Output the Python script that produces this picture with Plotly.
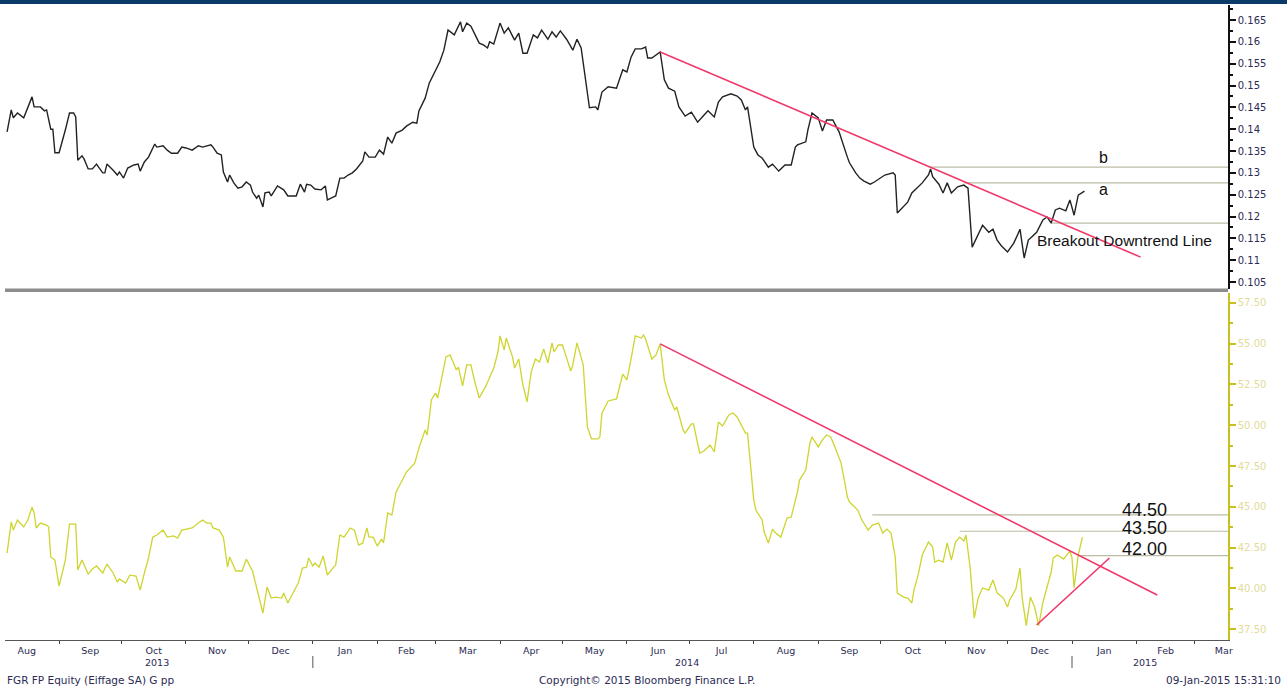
import plotly.graph_objects as go

# ---------------- data ----------------
ratio_series = [
    ("2013-08-07",0.1394),("2013-08-09",0.1444),("2013-08-10",0.1426),("2013-08-12",0.1437),("2013-08-15",0.1426),("2013-08-17",0.1451),("2013-08-19",0.1474),("2013-08-20",0.1451),("2013-08-23",0.1451),("2013-08-25",0.1442),("2013-08-26",0.1444),("2013-08-28",0.1400),("2013-08-29",0.1400),("2013-08-30",0.1346),
    ("2013-09-01",0.1346),("2013-09-04",0.1398),("2013-09-06",0.1437),("2013-09-08",0.1437),("2013-09-09",0.1428),("2013-09-10",0.1329),("2013-09-12",0.1339),("2013-09-13",0.1332),("2013-09-15",0.1309),("2013-09-17",0.1309),("2013-09-19",0.1320),("2013-09-20",0.1313),("2013-09-22",0.1300),("2013-09-23",0.1300),("2013-09-24",0.1320),("2013-09-27",0.1306),("2013-09-29",0.1295),("2013-09-30",0.1302),
    ("2013-10-02",0.1288),("2013-10-04",0.1311),("2013-10-07",0.1318),("2013-10-09",0.1320),("2013-10-10",0.1304),("2013-10-12",0.1325),("2013-10-14",0.1336),("2013-10-17",0.1366),("2013-10-18",0.1359),("2013-10-21",0.1362),("2013-10-23",0.1352),("2013-10-25",0.1345),("2013-10-28",0.1345),("2013-10-30",0.1359),
    ("2013-11-01",0.1357),("2013-11-04",0.1352),("2013-11-07",0.1362),("2013-11-09",0.1359),("2013-11-11",0.1362),("2013-11-13",0.1364),("2013-11-14",0.1359),("2013-11-16",0.1345),("2013-11-18",0.1341),("2013-11-19",0.1302),("2013-11-21",0.1279),("2013-11-22",0.1295),("2013-11-24",0.1277),("2013-11-26",0.1265),("2013-11-28",0.1268),("2013-11-30",0.1279),
    ("2013-12-02",0.1272),("2013-12-03",0.1256),("2013-12-05",0.1242),("2013-12-06",0.1249),("2013-12-08",0.1222),("2013-12-09",0.1254),("2013-12-11",0.1256),("2013-12-12",0.1247),("2013-12-15",0.1270),("2013-12-18",0.1261),("2013-12-20",0.1247),("2013-12-24",0.1247),("2013-12-26",0.1274),("2013-12-28",0.1256),("2013-12-29",0.1274),("2013-12-31",0.1272),
    ("2014-01-02",0.1263),("2014-01-05",0.1261),("2014-01-07",0.1270),("2014-01-08",0.1238),("2014-01-11",0.1245),("2014-01-12",0.1247),("2014-01-14",0.1288),("2014-01-16",0.1288),("2014-01-18",0.1295),("2014-01-20",0.1300),("2014-01-22",0.1309),("2014-01-25",0.1327),("2014-01-26",0.1348),("2014-01-28",0.1336),("2014-01-31",0.1336),
    ("2014-02-02",0.1352),("2014-02-04",0.1343),("2014-02-06",0.1382),("2014-02-08",0.1368),("2014-02-10",0.1391),("2014-02-13",0.1398),("2014-02-15",0.1407),("2014-02-18",0.1416),("2014-02-20",0.1414),("2014-02-21",0.1442),("2014-02-24",0.1471),("2014-02-26",0.1506),
    ("2014-03-01",0.1536),("2014-03-03",0.1554),("2014-03-05",0.1581),("2014-03-07",0.1627),("2014-03-10",0.1616),("2014-03-13",0.1646),("2014-03-14",0.1623),("2014-03-16",0.1643),("2014-03-18",0.1636),("2014-03-19",0.1627),("2014-03-22",0.1597),("2014-03-24",0.1593),("2014-03-26",0.1586),("2014-03-27",0.1600),("2014-03-29",0.1595),
    ("2014-04-01",0.1643),("2014-04-03",0.1620),("2014-04-05",0.1632),("2014-04-08",0.1604),("2014-04-10",0.1620),("2014-04-12",0.1574),("2014-04-14",0.1574),("2014-04-17",0.1616),("2014-04-19",0.1609),("2014-04-21",0.1627),("2014-04-24",0.1606),("2014-04-26",0.1623),("2014-04-28",0.1611),("2014-04-30",0.1625),
    ("2014-05-03",0.1606),("2014-05-06",0.1581),("2014-05-08",0.1606),("2014-05-10",0.1586),("2014-05-14",0.1449),("2014-05-17",0.1451),("2014-05-18",0.1444),("2014-05-20",0.1485),("2014-05-23",0.1497),("2014-05-27",0.1494),("2014-05-30",0.1536),
    ("2014-06-01",0.1531),("2014-06-03",0.1565),("2014-06-05",0.1584),("2014-06-08",0.1584),("2014-06-10",0.1588),("2014-06-11",0.1563),("2014-06-13",0.1563),("2014-06-17",0.1577),("2014-06-19",0.1513),("2014-06-21",0.1494),("2014-06-24",0.1487),("2014-06-26",0.1451),("2014-06-29",0.1430),
    ("2014-07-02",0.1439),("2014-07-05",0.1416),("2014-07-08",0.1432),("2014-07-10",0.1442),("2014-07-13",0.1428),("2014-07-15",0.1462),("2014-07-17",0.1474),("2014-07-21",0.1481),("2014-07-24",0.1476),("2014-07-26",0.1467),("2014-07-28",0.1444),("2014-07-29",0.1451),
    ("2014-08-01",0.1359),("2014-08-03",0.1341),("2014-08-05",0.1334),("2014-08-08",0.1313),("2014-08-10",0.1320),("2014-08-13",0.1304),("2014-08-16",0.1318),("2014-08-19",0.1318),("2014-08-21",0.1359),("2014-08-22",0.1364),("2014-08-26",0.1371),("2014-08-27",0.1398),("2014-08-29",0.1437),
    ("2014-09-01",0.1426),("2014-09-03",0.1396),("2014-09-05",0.1421),("2014-09-08",0.1421),("2014-09-11",0.1394),("2014-09-15",0.1336),("2014-09-16",0.1323),("2014-09-19",0.1300),("2014-09-21",0.1288),("2014-09-23",0.1281),("2014-09-26",0.1274),("2014-09-28",0.1279),
    ("2014-10-01",0.1288),("2014-10-03",0.1295),("2014-10-07",0.1300),("2014-10-08",0.1295),("2014-10-09",0.1208),("2014-10-12",0.1222),("2014-10-14",0.1233),("2014-10-16",0.1254),("2014-10-19",0.1268),("2014-10-21",0.1277),("2014-10-24",0.1295),("2014-10-25",0.1309),("2014-10-26",0.1291),("2014-10-29",0.1274),("2014-10-31",0.1254),
    ("2014-11-02",0.1277),("2014-11-04",0.1254),("2014-11-07",0.1268),("2014-11-10",0.1272),("2014-11-12",0.1265),("2014-11-14",0.1130),("2014-11-17",0.1160),("2014-11-19",0.1180),("2014-11-22",0.1164),("2014-11-24",0.1171),("2014-11-26",0.1146),("2014-11-28",0.1133),
    ("2014-12-01",0.1119),("2014-12-04",0.1139),("2014-12-06",0.1160),("2014-12-07",0.1171),("2014-12-09",0.1105),("2014-12-11",0.1146),("2014-12-13",0.1155),("2014-12-15",0.1164),("2014-12-18",0.1192),("2014-12-20",0.1199),("2014-12-22",0.1185),("2014-12-24",0.1215),("2014-12-26",0.1219),("2014-12-29",0.1213),("2014-12-31",0.1238),
    ("2015-01-02",0.1203),("2015-01-04",0.1249),("2015-01-07",0.1258),
]

price_series = [
    ("2013-08-07",42.16),("2013-08-09",44.07),("2013-08-10",43.57),("2013-08-12",44.19),("2013-08-15",43.76),("2013-08-17",44.19),("2013-08-19",44.98),("2013-08-20",44.62),("2013-08-21",43.70),("2013-08-23",44.00),("2013-08-26",43.88),("2013-08-27",43.76),("2013-08-28",41.92),("2013-08-30",41.73),
    ("2013-09-01",40.14),("2013-09-04",41.73),("2013-09-06",43.94),("2013-09-09",43.94),("2013-09-10",41.12),("2013-09-12",41.73),("2013-09-15",40.87),("2013-09-17",41.18),("2013-09-19",41.37),("2013-09-21",41.06),("2013-09-22",40.94),("2013-09-24",41.49),("2013-09-27",40.94),("2013-09-29",40.38),("2013-09-30",40.57),
    ("2013-10-03",40.32),("2013-10-05",40.81),("2013-10-08",40.75),("2013-10-10",39.89),("2013-10-12",40.94),("2013-10-14",41.86),("2013-10-16",43.14),("2013-10-18",43.27),("2013-10-21",43.57),("2013-10-23",43.14),("2013-10-26",43.21),("2013-10-28",43.08),("2013-10-30",43.57),
    ("2013-11-02",43.63),("2013-11-04",43.70),("2013-11-07",44.00),("2013-11-09",44.19),("2013-11-11",44.00),("2013-11-13",44.00),("2013-11-14",43.70),("2013-11-17",43.57),("2013-11-19",43.14),("2013-11-21",41.30),("2013-11-22",41.92),("2013-11-25",41.06),("2013-11-28",41.06),("2013-11-30",41.79),
    ("2013-12-03",41.06),("2013-12-05",40.08),("2013-12-06",39.59),("2013-12-08",38.48),("2013-12-10",40.08),("2013-12-12",39.40),("2013-12-14",39.46),("2013-12-17",39.40),("2013-12-18",39.71),("2013-12-20",39.10),("2013-12-22",39.59),("2013-12-25",40.32),("2013-12-27",41.24),("2013-12-29",41.30),("2013-12-30",41.86),
    ("2014-01-01",41.37),("2014-01-02",41.55),("2014-01-04",41.30),("2014-01-06",41.98),("2014-01-08",40.81),("2014-01-11",41.30),("2014-01-12",41.43),("2014-01-14",43.27),("2014-01-16",43.14),("2014-01-19",43.70),("2014-01-21",43.57),("2014-01-23",42.65),("2014-01-25",42.78),("2014-01-27",43.70),("2014-01-28",43.14),("2014-01-30",43.14),
    ("2014-02-01",42.59),("2014-02-03",43.02),("2014-02-04",42.78),("2014-02-06",44.62),("2014-02-08",44.49),("2014-02-10",45.90),("2014-02-13",46.64),("2014-02-15",47.13),("2014-02-19",47.68),("2014-02-21",48.60),("2014-02-24",49.71),("2014-02-25",49.40),("2014-02-27",51.55),
    ("2014-03-01",51.98),("2014-03-02",51.67),("2014-03-04",52.96),("2014-03-06",54.19),("2014-03-08",54.31),("2014-03-11",53.39),("2014-03-12",53.57),("2014-03-14",52.41),("2014-03-16",53.70),("2014-03-18",53.70),("2014-03-20",52.59),("2014-03-22",51.67),("2014-03-25",52.35),("2014-03-27",52.90),("2014-03-29",53.51),("2014-03-31",54.49),
    ("2014-04-01",55.48),("2014-04-03",54.62),("2014-04-04",55.35),("2014-04-07",54.19),("2014-04-08",53.51),("2014-04-10",54.06),("2014-04-12",52.47),("2014-04-14",51.43),("2014-04-16",53.27),("2014-04-18",54.06),("2014-04-20",53.88),("2014-04-22",54.68),("2014-04-24",53.82),("2014-04-26",55.05),("2014-04-27",54.49),("2014-04-29",54.92),
    ("2014-05-01",54.92),("2014-05-03",54.13),("2014-05-05",53.33),("2014-05-06",53.70),("2014-05-08",55.05),("2014-05-11",53.70),("2014-05-13",49.89),("2014-05-15",49.16),("2014-05-18",49.16),("2014-05-19",49.28),("2014-05-20",50.75),("2014-05-23",51.49),("2014-05-27",51.61),("2014-05-30",53.14),
    ("2014-06-01",52.78),("2014-06-03",54.06),("2014-06-05",55.48),("2014-06-08",55.35),("2014-06-09",55.54),("2014-06-10",55.29),("2014-06-13",54.06),("2014-06-15",54.31),("2014-06-17",54.99),("2014-06-19",52.78),("2014-06-21",51.85),("2014-06-24",50.93),("2014-06-25",51.12),("2014-06-28",49.71),("2014-06-29",49.52),
    ("2014-07-02",50.08),("2014-07-03",50.08),("2014-07-06",48.30),("2014-07-08",48.42),("2014-07-11",48.79),("2014-07-13",48.36),("2014-07-15",50.20),("2014-07-17",49.95),("2014-07-20",50.63),("2014-07-22",50.75),("2014-07-24",50.51),("2014-07-26",50.02),("2014-07-28",49.52),("2014-07-29",49.52),
    ("2014-08-01",45.41),("2014-08-02",44.80),("2014-08-05",44.19),("2014-08-06",43.45),("2014-08-08",42.78),("2014-08-10",43.63),("2014-08-11",43.45),("2014-08-14",43.14),("2014-08-17",44.31),("2014-08-19",44.37),("2014-08-22",45.90),("2014-08-23",46.64),("2014-08-26",47.25),("2014-08-28",48.91),("2014-08-29",49.28),
    ("2014-09-01",48.67),("2014-09-03",49.10),("2014-09-05",49.40),("2014-09-07",49.28),("2014-09-09",48.67),("2014-09-12",47.68),("2014-09-14",46.33),("2014-09-15",45.60),("2014-09-16",45.29),("2014-09-20",44.80),("2014-09-22",44.19),("2014-09-25",43.57),("2014-09-27",43.88),("2014-09-30",44.00),
    ("2014-10-02",43.39),("2014-10-04",43.63),("2014-10-06",43.39),("2014-10-08",41.92),("2014-10-09",39.71),("2014-10-12",39.46),("2014-10-14",39.40),("2014-10-16",39.10),("2014-10-17",39.89),("2014-10-19",40.81),("2014-10-21",42.04),("2014-10-24",42.84),("2014-10-26",42.53),("2014-10-27",41.61),("2014-10-29",41.73),("2014-10-31",41.61),
    ("2014-11-02",42.78),("2014-11-04",41.73),("2014-11-06",42.84),("2014-11-08",43.14),("2014-11-10",42.90),("2014-11-11",43.27),("2014-11-13",41.30),("2014-11-15",38.17),("2014-11-17",39.46),("2014-11-19",40.02),("2014-11-22",39.89),("2014-11-24",40.51),("2014-11-26",39.71),("2014-11-29",39.40),
    ("2014-12-01",38.85),("2014-12-02",39.28),("2014-12-05",39.95),("2014-12-07",41.24),("2014-12-08",39.46),("2014-12-10",37.71),("2014-12-12",39.46),("2014-12-14",38.85),("2014-12-16",37.71),("2014-12-18",39.12),("2014-12-20",40.08),("2014-12-22",41.00),("2014-12-23",41.86),("2014-12-25",42.04),("2014-12-28",41.79),("2014-12-31",42.29),
    ("2015-01-01",41.86),("2015-01-02",40.02),("2015-01-04",42.04),("2015-01-06",43.14),
]

ratio_dates = [d for d, _ in ratio_series]
ratio_values = [v for _, v in ratio_series]
price_dates = [d for d, _ in price_series]
price_values = [v for _, v in price_series]

# trend lines (start/end date, start/end value)
ratio_trend_dates = ["2014-06-17", "2015-02-03"]
ratio_trend_values = [0.1577, 0.1107]
price_down_dates = ["2014-06-17", "2015-02-11"]
price_down_values = [54.99, 39.59]
price_up_dates = ["2014-12-15", "2015-01-19"]
price_up_values = [37.75, 41.86]

# horizontal levels: (start date, value)
ratio_levels = [("2014-10-25", 0.1313), ("2014-11-10", 0.1277), ("2014-12-22", 0.1185)]
price_levels = [("2014-09-27", 44.50), ("2014-11-08", 43.50), ("2015-01-04", 42.00)]
price_level_labels = ["44.50", "43.50", "42.00"]
price_label_y = [44.80, 43.70, 42.41]

month_labels_font = "DejaVu Sans"
X_START, X_END = "2013-08-06", "2015-03-17"
year_labels = [("2013-10-18", "2013"), ("2014-06-30", "2014"), ("2015-02-05", "2015")]
year_breaks = ["2014-01-01", "2015-01-01"]

# ---------------- layout constants ----------------
W, H = 1287, 689
ML, MR, MT, MB = 5, 59, 5, 49
PH = H - MT - MB
PW = W - ML - MR
top_dom = [(640 - 289) / PH, 1.0]
bot_dom = [0.0, (640 - 293) / PH]

BLACK = "#222222"
RED = "#f0386a"
YEL = "#cdd52e"
LEVEL = "#bcbca4"
AXTXT = "#2b2b55"

fig = go.Figure()

for d0, v in ratio_levels:
    fig.add_trace(go.Scatter(x=[d0, X_END], y=[v, v], mode="lines",
                             line=dict(color=LEVEL, width=1.2), xaxis="x2", yaxis="y2",
                             hoverinfo="skip", showlegend=False))
for d0, v in price_levels:
    fig.add_trace(go.Scatter(x=[d0, X_END], y=[v, v], mode="lines",
                             line=dict(color=LEVEL, width=1.2), xaxis="x", yaxis="y",
                             hoverinfo="skip", showlegend=False))

fig.add_trace(go.Scatter(x=ratio_dates, y=ratio_values, mode="lines",
                         line=dict(color=BLACK, width=1.4), xaxis="x2", yaxis="y2", showlegend=False))
fig.add_trace(go.Scatter(x=price_dates, y=price_values, mode="lines",
                         line=dict(color=YEL, width=1.3), xaxis="x", yaxis="y", showlegend=False))

fig.add_trace(go.Scatter(x=ratio_trend_dates, y=ratio_trend_values, mode="lines",
                         line=dict(color=RED, width=1.6), xaxis="x2", yaxis="y2", showlegend=False))
fig.add_trace(go.Scatter(x=price_down_dates, y=price_down_values, mode="lines",
                         line=dict(color=RED, width=1.6), xaxis="x", yaxis="y", showlegend=False))
fig.add_trace(go.Scatter(x=price_up_dates, y=price_up_values, mode="lines",
                         line=dict(color=RED, width=1.6), xaxis="x", yaxis="y", showlegend=False))

annotations = []
annotations.append(dict(x="2015-01-16", y=0.1336, xref="x2", yref="y2", text="b", showarrow=False,
                        xanchor="center", yanchor="middle",
                        font=dict(family="Liberation Sans", size=16, color="#111")))
annotations.append(dict(x="2015-01-16", y=0.1263, xref="x2", yref="y2", text="a", showarrow=False,
                        xanchor="center", yanchor="middle",
                        font=dict(family="Liberation Sans", size=16, color="#111")))
annotations.append(dict(x="2014-12-14", y=0.1144, xref="x2", yref="y2", text="Breakout Downtrend Line",
                        xanchor="left", yanchor="middle", showarrow=False,
                        font=dict(family="Liberation Sans", size=15.5, color="#111")))
for lab, ly in zip(price_level_labels, price_label_y):
    annotations.append(dict(x="2015-01-24", y=ly, xref="x", yref="y", text=lab, xanchor="left",
                            yanchor="middle", showarrow=False,
                            font=dict(family="Liberation Sans", size=18, color="#111")))

# year labels
year_y = (640 - 662) / PH
for d, t in year_labels:
    annotations.append(dict(x=d, y=year_y, xref="x", yref="paper", text=t, showarrow=False,
                            xanchor="center", yanchor="middle",
                            font=dict(family=month_labels_font, size=9.5, color=AXTXT)))

# footer
foot_y = (640 - 680) / PH
foot_font = dict(family=month_labels_font, size=10.5, color=AXTXT)
annotations.append(dict(x=0, y=foot_y, xref="paper", yref="paper", text="FGR FP Equity (Eiffage SA) G pp",
                        xanchor="left", yanchor="middle", showarrow=False, font=foot_font))
annotations.append(dict(x=(647 - ML) / PW, y=foot_y, xref="paper", yref="paper",
                        text="Copyright© 2015 Bloomberg Finance L.P.", xanchor="center", yanchor="middle",
                        showarrow=False, font=foot_font))
annotations.append(dict(x=(1283 - ML) / PW, y=foot_y, xref="paper", yref="paper",
                        text="09-Jan-2015 15:31:10", xanchor="right", yanchor="middle", showarrow=False,
                        font=foot_font))

shapes = [
    dict(type="rect", xref="paper", yref="paper", x0=-ML / PW, x1=1 + MR / PW,
         y0=1 + 1 / PH, y1=1 + MT / PH, fillcolor="#0b3a68", line=dict(width=0), layer="above"),
    dict(type="rect", xref="paper", yref="paper", x0=0, x1=1,
         y0=(640 - 292) / PH, y1=(640 - 288.5) / PH, fillcolor="#8c8c8c", line=dict(width=0)),
]
for d in year_breaks:
    shapes.append(dict(type="line", xref="x", yref="paper", x0=d, x1=d,
                       y0=(640 - 656) / PH, y1=(640 - 668) / PH,
                       line=dict(color="#555555", width=1)))

fig.update_layout(
    width=W, height=H,
    margin=dict(l=ML, r=MR, t=MT, b=MB),
    paper_bgcolor="white", plot_bgcolor="white",
    showlegend=False,
    annotations=annotations,
    shapes=shapes,
    xaxis=dict(type="date", range=[X_START, X_END], anchor="y", domain=[0, 1],
               dtick="M1", tick0="2013-08-01", ticklabelmode="period", tickformat="%b",
               ticks="outside", ticklen=3, tickcolor="#444", showgrid=False, zeroline=False,
               ticklabelstandoff=-1,
               showline=True, linecolor="#555", linewidth=1,
               tickfont=dict(family=month_labels_font, size=9.5, color=AXTXT)),
    xaxis2=dict(type="date", range=[X_START, X_END], anchor="y2", matches="x", domain=[0, 1],
                showticklabels=False, ticks="", showgrid=False, zeroline=False, showline=False),
    yaxis=dict(domain=bot_dom, range=[36.83, 58.11], side="right", anchor="x",
               tickvals=[37.5, 40, 42.5, 45, 47.5, 50, 52.5, 55, 57.5], tickformat=".2f",
               ticks="outside", ticklen=6, tickwidth=2, tickcolor="#c9c020",
               minor=dict(ticks="outside", ticklen=3, tickcolor="#c9c020", dtick=1.25, tick0=37.5),
               showline=True, linecolor="#c9c020", linewidth=1.5,
               showgrid=False, zeroline=False,
               tickfont=dict(family=month_labels_font, size=10, color="#e2dc98")),
    yaxis2=dict(domain=top_dom, range=[0.1034, 0.16844], side="right", anchor="x2",
                dtick=0.005, tick0=0.105,
                ticks="outside", ticklen=6, tickwidth=2, tickcolor="#111",
                minor=dict(ticks="outside", ticklen=3, tickcolor="#111", dtick=0.0025),
                showline=True, linecolor="#111", linewidth=1.5,
                showgrid=False, zeroline=False,
                tickfont=dict(family=month_labels_font, size=10, color=AXTXT)),
)

fig.write_html("out.html", config={"displayModeBar": False},
               post_script="document.body.style.margin='0px';document.body.style.overflow='hidden';")
